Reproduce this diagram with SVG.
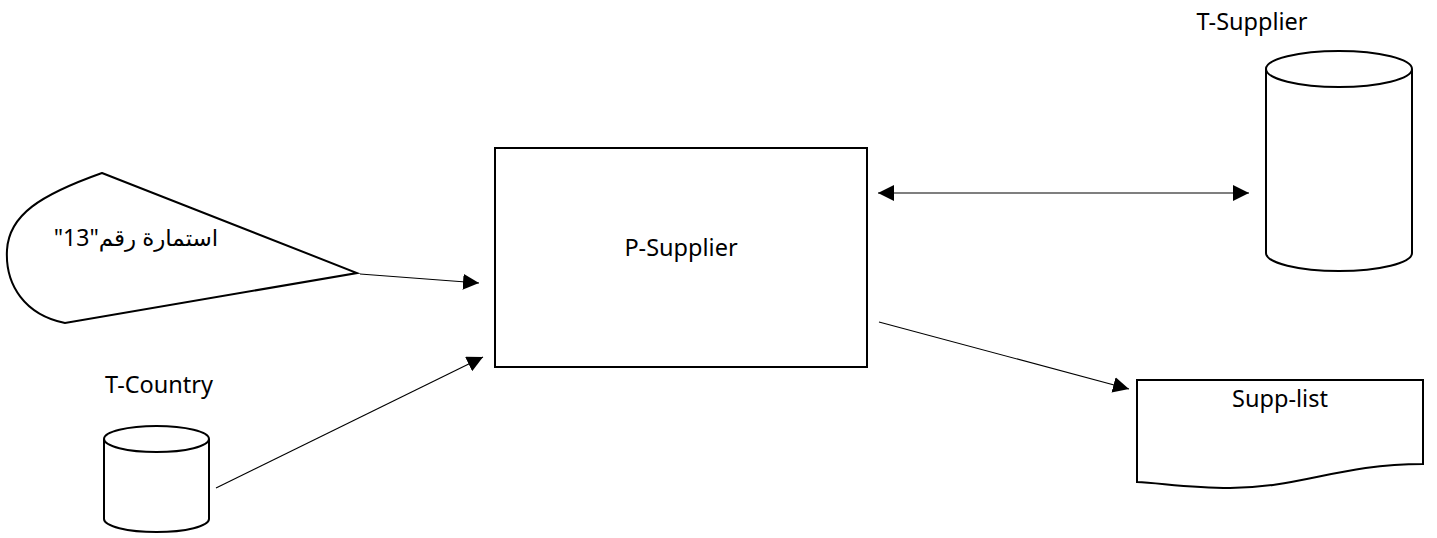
<svg xmlns="http://www.w3.org/2000/svg" width="1437" height="538" viewBox="0 0 1437 538">
<style>
.shape{fill:#fff;stroke:#000;stroke-width:2}
.conn{fill:none;stroke:#000;stroke-width:1.2}
.lbl{font-family:"Noto Sans","DejaVu Sans",sans-serif;font-size:23.5px;fill:#000;text-anchor:middle}
</style>
<defs>
<marker id="arr" markerUnits="userSpaceOnUse" markerWidth="16" markerHeight="16" refX="16" refY="8" orient="auto">
<path d="M0,0 L16,8 L0,16 Z" fill="#000"/>
</marker>
<marker id="arrS" markerUnits="userSpaceOnUse" markerWidth="16" markerHeight="16" refX="16" refY="8" orient="auto-start-reverse">
<path d="M0,0 L16,8 L0,16 Z" fill="#000"/>
</marker>
</defs>
<g id="form13">
<path class="shape" d="M102,173 L357,273 L65,323 C25,315 5,285 7,250 C9,215 40,195 102,173 Z"/>
<text class="lbl" x="136" y="246" direction="rtl" unicode-bidi="embed" style="text-anchor:middle;font-size:23px">استمارة رقم"13"</text>
</g>
<g id="p-supplier">
<rect class="shape" x="495" y="148" width="372" height="219"/>
<text class="lbl" x="681" y="256">P-Supplier</text>
</g>
<g id="t-supplier">
<path class="shape" d="M1266,69 L1266,253 A73,18 0 0 0 1412,253 L1412,69"/>
<ellipse class="shape" cx="1339" cy="69" rx="73" ry="18"/>
<text class="lbl" x="1252" y="30">T-Supplier</text>
</g>
<g id="t-country">
<path class="shape" d="M104,439 L104,519 A52.5,13 0 0 0 209,519 L209,439"/>
<ellipse class="shape" cx="156.5" cy="439" rx="52.5" ry="13"/>
<text class="lbl" x="159" y="393">T-Country</text>
</g>
<g id="supp-list">
<path class="shape" d="M1137,380 L1423,380 L1423,464 C1340,464 1300,488 1230,488 C1190,488 1160,483 1137,482 Z"/>
<text class="lbl" x="1280" y="407">Supp-list</text>
</g>
<g id="connectors">
<line class="conn" x1="360" y1="274" x2="479" y2="283" marker-end="url(#arr)"/>
<line class="conn" x1="216" y1="488" x2="483" y2="357" marker-end="url(#arr)"/>
<line class="conn" x1="878" y1="193" x2="1249" y2="193" marker-start="url(#arrS)" marker-end="url(#arr)"/>
<line class="conn" x1="879" y1="322" x2="1129" y2="389" marker-end="url(#arr)"/>
</g>
</svg>
